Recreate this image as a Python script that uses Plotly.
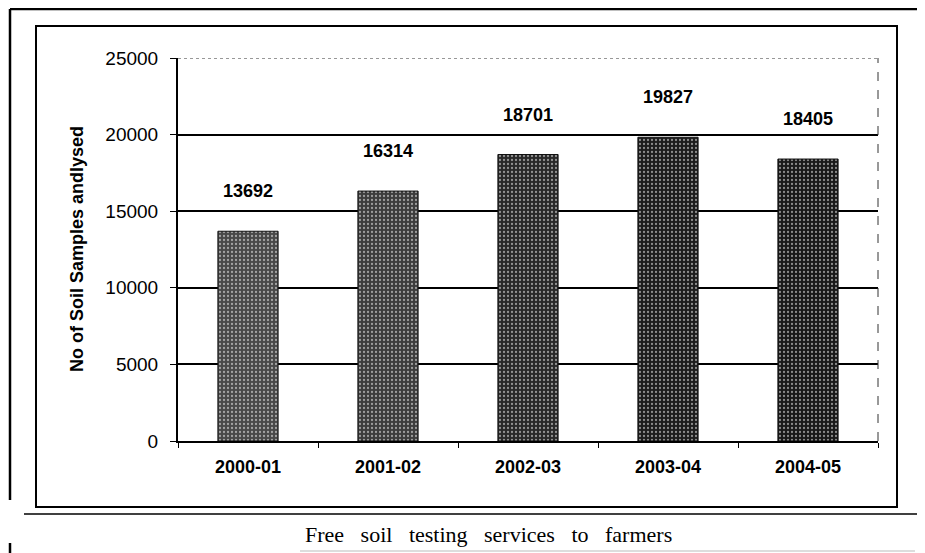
import plotly.graph_objects as go

categories = ["2000-01", "2001-02", "2002-03", "2003-04", "2004-05"]
samples = [13692, 16314, 18701, 19827, 18405]
y_ticks = [0, 5000, 10000, 15000, 20000, 25000]
y_tick_text = ["0", "5000", "10000", "15000", "20000", "25000"]

bar_colors = ["#484848", "#3c3c3c", "#282828", "#1c1c1c", "#181818"]
speck_colors = ["#cfcfcf", "#bdbdbd", "#7a7a7a", "#5a5a5a", "#4a4a4a"]

OFF = 8  # page body margin
W, H = 925 - OFF, 553 - OFF
L, R, T, B = 178 - OFF, 878 - OFF, 58 - OFF, 441 - OFF

def px(x):
    return (x - OFF - L) / (R - L)

def py(y):
    return (B - (y - OFF)) / (B - T)

fig = go.Figure()
fig.add_trace(go.Bar(
    x=categories, y=samples,
    marker=dict(color=bar_colors, line=dict(width=1, color="#111"),
                pattern=dict(shape=".", fgcolor=speck_colors, size=4, solidity=0.25)),
    width=0.43,
))

for c, v in zip(categories, samples):
    fig.add_annotation(x=c, y=v, text=f"<b>{v}</b>", showarrow=False, yshift=40,
                       font=dict(family="Liberation Sans, Arial", size=18, color="#000"))

# top dotted border and right dashed border
fig.add_shape(type="line", xref="paper", yref="y", x0=0, x1=1, y0=25000, y1=25000,
              line=dict(color="#333", width=1, dash="dot"))
fig.add_shape(type="line", xref="paper", yref="paper", x0=1, x1=1, y0=0, y1=1,
              line=dict(color="#333", width=1, dash="dash"))

# inner chart box
fig.add_shape(type="rect", xref="paper", yref="paper",
              x0=px(36), x1=px(897), y0=py(507), y1=py(26),
              line=dict(color="#000", width=2))
# outer lines
fig.add_shape(type="line", xref="paper", yref="paper", x0=px(10), x1=px(925), y0=py(9), y1=py(9),
              line=dict(color="#000", width=2.5))
fig.add_shape(type="line", xref="paper", yref="paper", x0=px(10), x1=px(10), y0=py(9), y1=py(500),
              line=dict(color="#000", width=2.5))
fig.add_shape(type="line", xref="paper", yref="paper", x0=px(24), x1=px(925), y0=py(514), y1=py(514),
              line=dict(color="#000", width=1.5))
fig.add_shape(type="line", xref="paper", yref="paper", x0=px(10), x1=px(10), y0=py(543), y1=py(553),
              line=dict(color="#000", width=2.5))
fig.add_shape(type="line", xref="paper", yref="paper", x0=px(300), x1=px(915), y0=py(551), y1=py(551),
              line=dict(color="#bbb", width=1))

fig.add_annotation(xref="paper", yref="paper", x=px(488), y=py(534),
                   xanchor="center", yanchor="middle",
                   text="Free&nbsp;&nbsp; soil&nbsp;&nbsp; testing&nbsp;&nbsp; services&nbsp;&nbsp; to&nbsp;&nbsp; farmers",
                   showarrow=False,
                   font=dict(family="Liberation Serif, Times New Roman", size=22, color="#000"))

# y-axis title
fig.add_annotation(xref="paper", yref="paper", x=px(77), y=py(249), textangle=-90,
                   xanchor="center", yanchor="middle",
                   text="<b>No of Soil Samples andlysed</b>", showarrow=False,
                   font=dict(family="Liberation Sans, Arial", size=18, color="#000"))

fig.update_layout(
    width=W, height=H,
    margin=dict(l=L, r=W - R, t=T, b=H - B),
    paper_bgcolor="white", plot_bgcolor="white",
    showlegend=False,
    bargap=0.57,
    xaxis=dict(type="category", showline=True, linecolor="#000", linewidth=2,
               ticks="outside", tickson="boundaries", ticklen=5, tickcolor="#000",
               ticklabelstandoff=8,
               tickfont=dict(family="Liberation Sans, Arial", size=18, color="#000", weight="bold"),
               showgrid=False),
    yaxis=dict(range=[0, 25000], tickvals=y_ticks, ticktext=y_tick_text, ticks="outside", ticklen=6,
               tickcolor="#000", showline=True, linecolor="#000", linewidth=2,
               ticklabelstandoff=8,
               showgrid=True, gridcolor="#000", gridwidth=2, zeroline=False,
               tickfont=dict(family="Liberation Sans, Arial", size=19, color="#000")),
)

fig.write_html("out.html")
